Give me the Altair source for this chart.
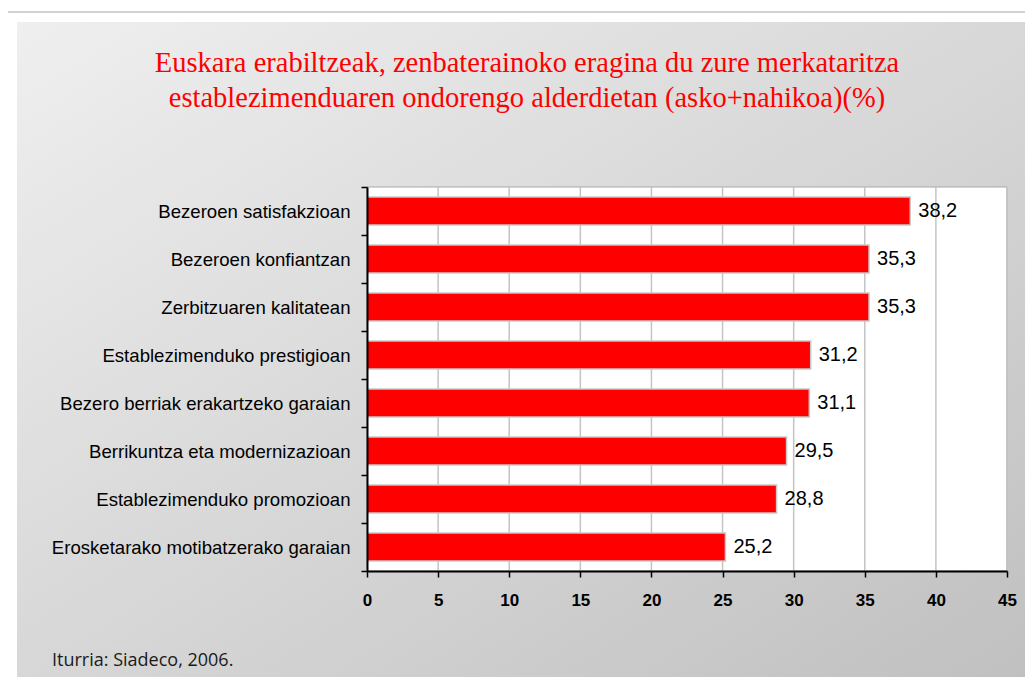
import altair as alt
import pandas as pd

categories = [
    "Bezeroen satisfakzioan",
    "Bezeroen konfiantzan",
    "Zerbitzuaren kalitatean",
    "Establezimenduko prestigioan",
    "Bezero berriak erakartzeko garaian",
    "Berrikuntza eta modernizazioan",
    "Establezimenduko promozioan",
    "Erosketarako motibatzerako garaian",
]
values = [38.2, 35.3, 35.3, 31.2, 31.1, 29.5, 28.8, 25.2]
x_ticks = [0, 5, 10, 15, 20, 25, 30, 35, 40, 45]
title_lines = [
    "Euskara erabiltzeak, zenbaterainoko eragina du zure merkataritza",
    "establezimenduaren ondorengo alderdietan (asko+nahikoa)(%)",
]
source_text = "Iturria: Siadeco, 2006."

df = pd.DataFrame({"cat": categories, "val": values})
grid_df = pd.DataFrame({"t": x_ticks[1:]})

W, H = 640, 384

xscale = alt.Scale(domain=[0, 45], nice=False, zero=True)
yscale = alt.Scale(domain=categories, paddingInner=0, paddingOuter=0)

# background gradient panel
bg_grad = alt.Gradient(
    gradient="linear",
    stops=[alt.GradientStop(color="#efefef", offset=0),
           alt.GradientStop(color="#bfbfbf", offset=1)],
    x1=0, y1=0, x2=1, y2=1,
)
frame = alt.Chart(alt.Data(values=[{"a": 1}])).mark_rect(
    fill="white", stroke="#c4c4c4", strokeWidth=1.5
).encode(x=alt.value(-360), x2=alt.value(700), y=alt.value(-175), y2=alt.value(540))

panel = alt.Chart(alt.Data(values=[{"a": 1}])).mark_rect(
    fill=bg_grad
).encode(x=alt.value(-350), x2=alt.value(700), y=alt.value(-165), y2=alt.value(495))

plot_bg = alt.Chart(alt.Data(values=[{"a": 1}])).mark_rect(
    fill="white", stroke="#a8a8a8", strokeWidth=1
).encode(x=alt.value(0), x2=alt.value("width"), y=alt.value(0), y2=alt.value("height"))

grid = alt.Chart(grid_df).mark_rule(color="#c4c4c4", strokeWidth=1.5).encode(
    x=alt.X("t:Q", scale=xscale),
    y=alt.value(0),
    y2=alt.value("height"),
)

base = alt.Chart(df)

bars = base.mark_bar(size=28, color="#ff0000", stroke="#c8c8c8", strokeWidth=1.5).encode(
    x=alt.X(
        "val:Q",
        scale=xscale,
        axis=alt.Axis(
            values=x_ticks, title=None, grid=False, zindex=1,
            domainColor="black", domainWidth=2,
            tickColor="black", tickWidth=1.5, tickSize=6,
            labelFont="Liberation Sans", labelFontSize=17, labelFontWeight="bold",
            labelColor="black", labelBaseline="middle", labelPadding=23,
            labelFlush=False,
        ),
    ),
    y=alt.Y(
        "cat:N",
        scale=yscale,
        sort=None,
        axis=alt.Axis(
            title=None, grid=False, zindex=1, tickBand="extent",
            domainColor="black", domainWidth=2,
            tickColor="black", tickWidth=1.5, tickSize=6,
            labelFont="Liberation Sans", labelFontSize=18.6, labelColor="black",
            labelPadding=11, labelLimit=400,
        ),
    ),
)

labels = base.transform_calculate(
    lab="replace(format(datum.val, '.1f'), '.', ',')"
).mark_text(
    align="left", baseline="middle", dx=8, fontSize=20,
    font="Liberation Sans", color="black"
).encode(
    x=alt.X("val:Q", scale=xscale),
    y=alt.Y("cat:N", scale=yscale, sort=None),
    text="lab:N",
)

title = alt.Chart(alt.Data(values=[{"a": 1}])).mark_text(
    font="Liberation Serif", fontSize=28.5, color="#ff0000",
    align="center", baseline="alphabetic", lineHeight=35,
).encode(x=alt.value(160), y=alt.value(-115), text=alt.value(title_lines))

source = alt.Chart(alt.Data(values=[{"a": 1}])).mark_text(
    font="Open Sans", fontSize=18, color="#1a1a1a",
    align="left", baseline="alphabetic",
).encode(x=alt.value(-315), y=alt.value(479), text=alt.value(source_text))

chart = alt.layer(frame, panel, plot_bg, grid, bars, labels, title, source).properties(
    width=W, height=H,
    autosize=alt.AutoSizeParams(type="none"),
    padding={"left": 359, "top": 179, "right": 18, "bottom": 106},
).configure_view(stroke=None).configure(background="white")

chart.save("out.html", embed_options={"renderer": "svg", "actions": False})
